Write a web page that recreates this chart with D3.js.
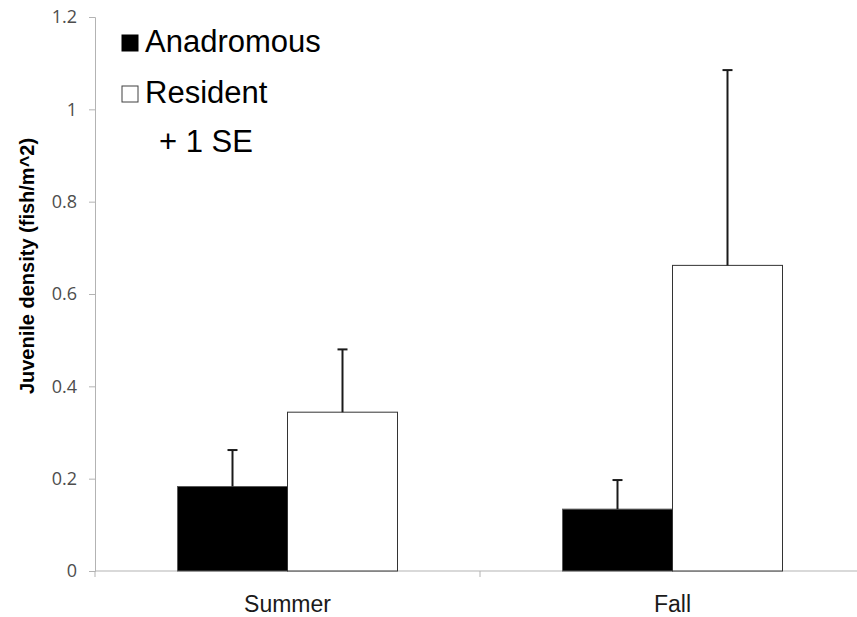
<!DOCTYPE html>
<html>
<head>
<meta charset="utf-8">
<script src="https://cdn.jsdelivr.net/npm/d3@7"></script>
<style>
  body { margin: 0; background: #fff; }
  svg { display: block; font-family: "Liberation Sans", Arial, sans-serif; }
</style>
</head>
<body>
<div id="chart"></div>
<script>
// data
var seasons = ["Summer", "Fall"];
var groups = ["Anadromous", "Resident"];
var anadromous = [0.183, 0.134];
var resident = [0.344, 0.662];
var anadromousSE = [0.079, 0.063];
var residentSE = [0.136, 0.423];
var yTicks = [0, 0.2, 0.4, 0.6, 0.8, 1, 1.2];

var width = 857, height = 617;
var margin = { top: 17, right: -8, bottom: 46, left: 95 };

var svg = d3.select("#chart")
    .append("svg")
    .attr("width", width)
    .attr("height", height);

var x = d3.scaleBand()
    .domain(seasons)
    .range([margin.left, width - margin.right]);

var xInner = d3.scaleBand()
    .domain(groups)
    .range([0, x.bandwidth()])
    .paddingOuter(0.75);

var y = d3.scaleLinear()
    .domain([0, 1.2])
    .range([height - margin.bottom, margin.top]);

var rows = [];
seasons.forEach(function (s, i) {
    rows.push({ season: s, group: "Anadromous", value: anadromous[i], se: anadromousSE[i] });
    rows.push({ season: s, group: "Resident", value: resident[i], se: residentSE[i] });
});

// Y axis
var yAxis = svg.append("g")
    .attr("transform", "translate(" + margin.left + ",0)")
    .call(d3.axisLeft(y).tickValues(yTicks).tickSize(6).tickPadding(12)
        .tickFormat(function (d) { return d3.format("")(d); }));
yAxis.selectAll("path, line").attr("stroke", "#b3b3b3");
yAxis.selectAll("text").attr("fill", "#4d4d4d").style("font-size", "18px")
    .style("font-family", "'Open Sans', 'Liberation Sans', sans-serif");

// X axis
var xAxis = svg.append("g")
    .attr("transform", "translate(0," + y(0) + ")");
xAxis.append("line")
    .attr("x1", margin.left).attr("x2", width - margin.right)
    .attr("stroke", "#b3b3b3");
xAxis.selectAll(".tk")
    .data(seasons.concat(["end"]))
    .enter().append("line")
    .attr("x1", function (d, i) { return margin.left + i * x.step(); })
    .attr("x2", function (d, i) { return margin.left + i * x.step(); })
    .attr("y1", 0).attr("y2", 6)
    .attr("stroke", "#b3b3b3");
xAxis.selectAll(".lbl")
    .data(seasons)
    .enter().append("text")
    .attr("x", function (d) { return x(d) + x.bandwidth() / 2; })
    .attr("y", 41)
    .attr("text-anchor", "middle")
    .attr("fill", "#1a1a1a")
    .style("font-size", "23px")
    .text(function (d) { return d; });

// Bars
svg.selectAll(".bar")
    .data(rows)
    .enter().append("rect")
    .attr("x", function (d) { return x(d.season) + xInner(d.group); })
    .attr("y", function (d) { return y(d.value); })
    .attr("width", xInner.bandwidth())
    .attr("height", function (d) { return y(0) - y(d.value); })
    .attr("fill", function (d) { return d.group === "Anadromous" ? "#000" : "#fff"; })
    .attr("stroke", function (d) { return d.group === "Anadromous" ? "#595959" : "#333"; })
    .attr("stroke-width", 1);

// Error bars (+1 SE)
var err = svg.selectAll(".err")
    .data(rows)
    .enter().append("g");
err.append("line")
    .attr("x1", function (d) { return x(d.season) + xInner(d.group) + xInner.bandwidth() / 2; })
    .attr("x2", function (d) { return x(d.season) + xInner(d.group) + xInner.bandwidth() / 2; })
    .attr("y1", function (d) { return y(d.value); })
    .attr("y2", function (d) { return y(d.value + d.se); })
    .attr("stroke", "#1a1a1a").attr("stroke-width", 2);
err.append("line")
    .attr("x1", function (d) { return x(d.season) + xInner(d.group) + xInner.bandwidth() / 2 - 5; })
    .attr("x2", function (d) { return x(d.season) + xInner(d.group) + xInner.bandwidth() / 2 + 5; })
    .attr("y1", function (d) { return y(d.value + d.se); })
    .attr("y2", function (d) { return y(d.value + d.se); })
    .attr("stroke", "#1a1a1a").attr("stroke-width", 2);

// Y axis title
svg.append("text")
    .attr("transform", "translate(34,266)rotate(-90)")
    .attr("text-anchor", "middle")
    .style("font-size", "20px")
    .style("font-weight", "bold")
    .attr("fill", "#000")
    .text("Juvenile density (fish/m^2)");

// Legend
var legend = svg.append("g");
groups.forEach(function (g, i) {
    var base = 52 + i * 51;
    legend.append("rect")
        .attr("x", 122).attr("y", base - 17)
        .attr("width", 16).attr("height", 16)
        .attr("fill", g === "Anadromous" ? "#000" : "#fff")
        .attr("stroke", g === "Anadromous" ? "#000" : "#404040");
    legend.append("text")
        .attr("x", 145).attr("y", base)
        .style("font-size", "31px")
        .attr("fill", "#000")
        .text(g);
});
legend.append("text")
    .attr("x", 159).attr("y", 152)
    .style("font-size", "31px")
    .attr("fill", "#000")
    .text("+ 1 SE");
</script>
</body>
</html>
